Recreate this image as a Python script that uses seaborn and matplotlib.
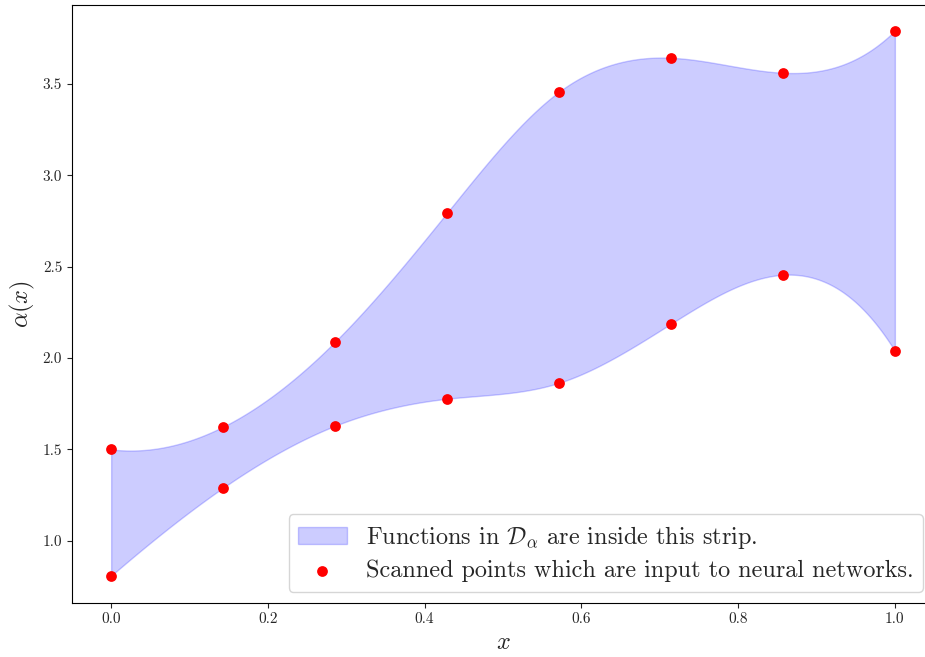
import numpy as np
import matplotlib
matplotlib.use("Agg")
import matplotlib.pyplot as plt
import seaborn as sns
import pandas as pd

# ---- data ----
x_points = [0.0, 1/7, 2/7, 3/7, 4/7, 5/7, 6/7, 1.0]
upper_vals = [1.50, 1.624, 2.089, 2.794, 3.456, 3.642, 3.560, 3.790]
lower_vals = [0.809, 1.290, 1.629, 1.777, 1.864, 2.187, 2.455, 2.039]
x_ticks = [0.0, 0.2, 0.4, 0.6, 0.8, 1.0]
y_ticks = [1.0, 1.5, 2.0, 2.5, 3.0, 3.5]
strip_label = r"Functions in $\mathcal{D}_\alpha$ are inside this strip."
points_label = "Scanned points which are input to neural networks."


def not_a_knot_spline(xk, yk, xs):
    xk = np.asarray(xk, float); yk = np.asarray(yk, float)
    n = len(xk); m = n - 1
    A = np.zeros((4 * m, 4 * m)); b = np.zeros(4 * m)
    r = 0
    for i in range(m):
        h = xk[i + 1] - xk[i]
        A[r, 4 * i] = 1; b[r] = yk[i]; r += 1
        A[r, 4 * i:4 * i + 4] = [1, h, h ** 2, h ** 3]; b[r] = yk[i + 1]; r += 1
    for i in range(m - 1):
        h = xk[i + 1] - xk[i]
        A[r, 4 * i:4 * i + 4] = [0, 1, 2 * h, 3 * h ** 2]; A[r, 4 * (i + 1) + 1] = -1; r += 1
        A[r, 4 * i:4 * i + 4] = [0, 0, 2, 6 * h]; A[r, 4 * (i + 1) + 2] = -2; r += 1
    for i in (0, m - 2):
        A[r, 4 * i + 3] = 1; A[r, 4 * (i + 1) + 3] = -1; r += 1
    c = np.linalg.solve(A, b).reshape(m, 4)
    idx = np.clip(np.searchsorted(xk, xs, side="right") - 1, 0, m - 1)
    t = xs - xk[idx]
    return c[idx, 0] + c[idx, 1] * t + c[idx, 2] * t ** 2 + c[idx, 3] * t ** 3


sns.set_style("ticks")
plt.rcParams["font.family"] = ["cmr10", "DejaVu Serif"]
plt.rcParams["mathtext.fontset"] = "cm"
plt.rcParams["axes.formatter.use_mathtext"] = True
plt.rcParams["axes.unicode_minus"] = False

fig = plt.figure(figsize=(9.25, 6.57), dpi=100)
ax = fig.add_axes([0.0778, 0.0822, 0.932, 0.910])

xs = np.linspace(0, 1, 400)
up = not_a_knot_spline(x_points, upper_vals, xs)
lo = not_a_knot_spline(x_points, lower_vals, xs)
ax.fill_between(xs, lo, up, color="blue", alpha=0.2, label=strip_label)

df = pd.DataFrame({"x": x_points * 2, "y": upper_vals + lower_vals})
sns.scatterplot(data=df, x="x", y="y", color="red", s=60, linewidth=0,
                ax=ax, label=points_label, zorder=3)

ax.set_xlim(-0.05, 1.05)
ax.set_ylim(0.66, 3.93)
ax.set_xticks(x_ticks)
ax.set_yticks(y_ticks)
ax.set_xticklabels([f"{v:.1f}" for v in x_ticks])
ax.set_yticklabels([f"{v:.1f}" for v in y_ticks])
ax.tick_params(labelsize=11)
ax.set_xlabel(r"$x$", fontsize=17.5)
ax.set_ylabel(r"$\alpha(x)$", fontsize=17.5)
for s in ax.spines.values():
    s.set_visible(True)
    s.set_color("black")
ax.legend(loc="lower right", fontsize=17.4, borderaxespad=0.45, labelspacing=0.38)

fig.savefig("out.png", dpi=100)
